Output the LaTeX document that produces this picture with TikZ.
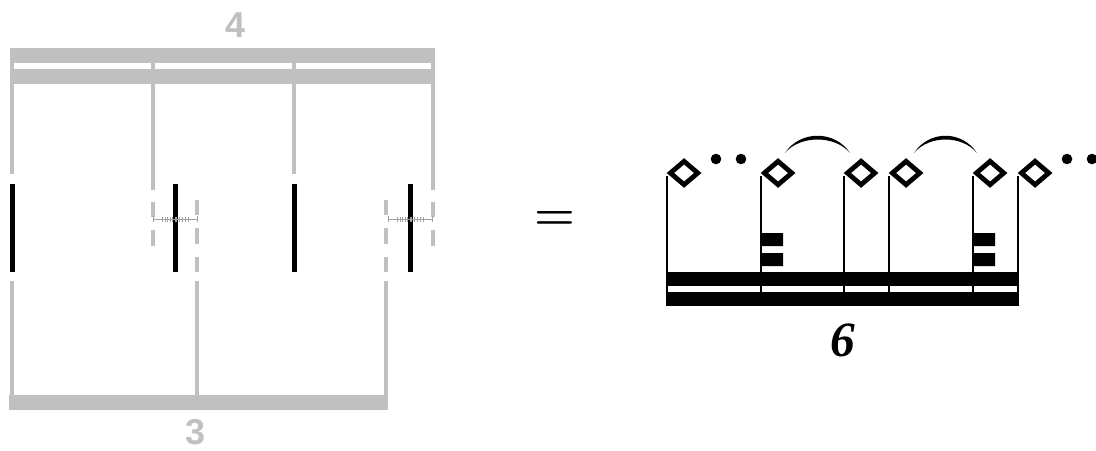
\documentclass[tikz,border=0pt]{standalone}
\usepackage{fontspec}
\setmainfont{Liberation Serif}
\newfontfamily\numfont{Liberation Sans}
\newfontfamily\eqfont{Latin Modern Roman}
\definecolor{RHYgray}{HTML}{C0C0C0}
\definecolor{RHYtick}{HTML}{A0A0A0}
\usetikzlibrary{shapes.geometric}

\begin{document}
\begin{tikzpicture}[
      x=0.75pt, y=-0.75pt,
      gstem/.style={RHYgray, line width=3pt},
      kstem/.style={black, line width=3.75pt},
      nstem/.style={black, line width=1.5pt},
      gnum/.style={RHYgray, font=\numfont\fontsize{27}{27}\selectfont\bfseries, inner sep=0pt},
      notehead/.style={diamond, draw=black, line width=3.6pt, minimum width=22pt, minimum height=19pt,
                       inner sep=0pt, fill=white, anchor=west},
      ruler/.style={RHYtick, line width=0.5pt}
   ]
      \useasboundingbox (0,0) rectangle (1096,450);

      % grey grouping: 4 above, 3 below
      \node[gnum] (four) at (236,25) {4};
      \node[gnum] (three) at (196,432) {3};
      \fill[RHYgray] (10,48) rectangle (435,84);
      \fill[white] (14,63) rectangle (431,69);
      \fill[RHYgray] (9,395) rectangle (388,410);

      \foreach \x in {12,294} \draw[gstem] (\x,48) -- (\x,174);
      \foreach \x in {153,433} {
         \draw[gstem] (\x,48) -- (\x,190);
         \draw[gstem] (\x,202) -- (\x,217) (\x,230) -- (\x,246);
      }
      \foreach \x in {197,386} {
         \draw[gstem] (\x,200) -- (\x,215) (\x,228) -- (\x,244) (\x,257) -- (\x,272);
         \draw[gstem] (\x,281) -- (\x,402);
      }
      \draw[gstem] (12,281) -- (12,402);

      \foreach \x in {12,175,294,410} \draw[kstem] (\x,184) -- (\x,272);

      \foreach \x in {153,388} {
         \draw[ruler] (\x,219) -- (\x+44,219);
         \draw[ruler] (\x,216) -- (\x,222) (\x+44,216) -- (\x+44,222);
         \foreach \t in {9,12,14.7,17.7,19.7,22,23.7,26.3,29.3,32,35.3}
            \draw[ruler] (\x+\t,216.5) -- (\x+\t,221.5);
      }

      \node[inner sep=0pt, font=\eqfont\fontsize{35}{35}\selectfont\bfseries] (eq) at (555,220) {=};

      % notation
      \coordinate (beam) at (0,306);
      \fill (666,272) rectangle (1019,286);
      \fill (666,292) rectangle (1019,306);

      \foreach \i/\x in {1/667,2/761,3/844,4/889,5/973,6/1018}
         \node[notehead] (n\i) at (\x,173) {};
      \foreach \i in {1,...,6}
         \draw[nstem] ([yshift=-2pt]n\i.west) -- (n\i.west |- beam);

      \fill (761,233) rectangle (783,246) (761,253) rectangle (783,266);
      \fill (973,233) rectangle (995,246) (973,253) rectangle (995,266);

      \foreach \x in {716,741,1067,1092} \fill (\x,159) circle (5.3);

      \fill (785,153) .. controls (800,130) and (835,130) .. (850,153)
            .. controls (835,135) and (800,135) .. cycle;
      \fill (914,153) .. controls (929,130) and (962,130) .. (977,153)
            .. controls (962,135) and (929,135) .. cycle;

      \node[font=\fontsize{37}{37}\selectfont\bfseries\itshape, inner sep=0pt] (six) at (843,340) {6};
   \end{tikzpicture}
\end{document}
